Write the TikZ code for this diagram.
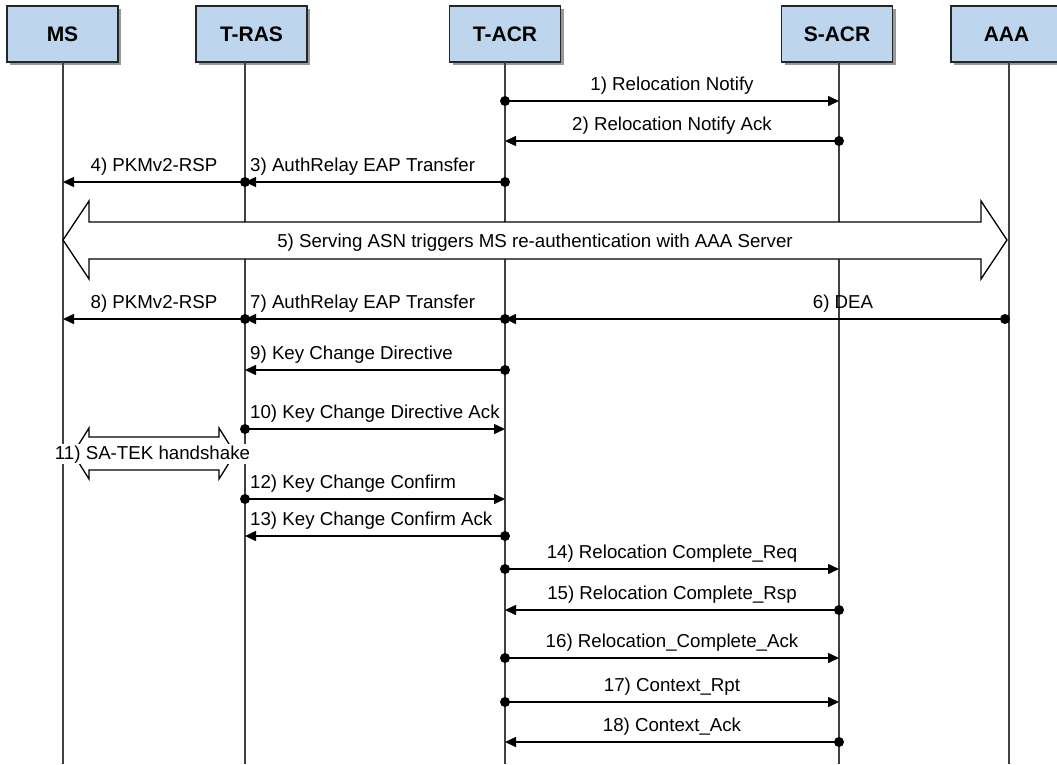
\documentclass[tikz,border=0pt]{standalone}
\usepackage{fontspec}
\setmainfont{Liberation Sans}
\usetikzlibrary{arrows.meta,shadows}

\definecolor{hdrblue}{RGB}{190,214,237}
\definecolor{lifegray}{RGB}{64,64,64}

% lifeline positions
\def\xMS{63}
\def\xTRAS{245}
\def\xTACR{505}
\def\xSACR{839}
\def\xAAA{1009}

% one message: name, from x, to x, y
\newcommand\sdmsg[4]{%
  \coordinate (#1s) at (#2,#4);
  \coordinate (#1e) at (#3,#4);
  \fill (#1s) circle[radius=5pt];
  \draw[msg] (#1s) -- (#1e);
}

\begin{document}
\begin{tikzpicture}[x=1pt,y=-1pt,
  hdr/.style={draw=black!85, line width=1.2pt, fill=hdrblue,
    minimum width=111pt, minimum height=56pt, inner sep=0pt,
    font=\bfseries\fontsize{21}{24}\selectfont,
    drop shadow={shadow xshift=3pt, shadow yshift=-3pt, fill=black!40, opacity=1}},
  life/.style={draw=lifegray, line width=2pt},
  msg/.style={line width=1.5pt, -{Triangle[length=11pt,width=10pt]}},
  lbl/.style={inner sep=0pt, font=\fontsize{18.7}{22}\selectfont},
  block/.style={draw=black, line width=1.3pt, fill=white, line join=miter}
]
\useasboundingbox (0,0) rectangle (1057,764);

% participants
\node[hdr] (MS)   at (62.5,34)  {MS};
\node[hdr] (TRAS) at (251.5,34) {T-RAS};
\node[hdr] (TACR) at (505,34)   {T-ACR};
\node[hdr] (SACR) at (837,34)   {S-ACR};
\node[hdr] (AAA)  at (1006.5,34){AAA};

% lifelines
\foreach \n/\x in {MS/\xMS, TRAS/\xTRAS, TACR/\xTACR, SACR/\xSACR, AAA/\xAAA}{
  \coordinate (\n top) at (\x,62);
  \coordinate (\n bot) at (\x,764);
  \draw[life] (\n top) -- (\n bot);
}

% messages 1-4
\sdmsg{m1}{\xTACR}{\xSACR}{101}
\node[lbl, anchor=base] (t1) at (672,90) {1) Relocation Notify};
\sdmsg{m2}{\xSACR}{\xTACR}{141}
\node[lbl, anchor=base] (t2) at (672,130) {2) Relocation Notify Ack};
\sdmsg{m3}{\xTACR}{\xTRAS}{182}
\node[lbl, anchor=base west] (t3) at (250,171) {3) AuthRelay EAP Transfer};
\sdmsg{m4}{\xTRAS}{\xMS}{182}
\node[lbl, anchor=base] (t4) at (154,171) {4) PKMv2-RSP};

% 5) re-authentication
\draw[block] (63,240) -- (89,201) -- (89,222) -- (981,222) -- (981,201)
  -- (1007,240) -- (981,279) -- (981,259) -- (89,259) -- (89,279) -- cycle;
\node[lbl, anchor=base] (t5) at (535,247)
  {5) Serving ASN triggers MS re-authentication with AAA Server};

% messages 6-10
\sdmsg{m6}{1005}{\xTACR}{319}
\node[lbl, anchor=base] (t6) at (843,308) {6) DEA};
\sdmsg{m7}{\xTACR}{\xTRAS}{319}
\node[lbl, anchor=base west] (t7) at (250,308) {7) AuthRelay EAP Transfer};
\sdmsg{m8}{\xTRAS}{\xMS}{319}
\node[lbl, anchor=base] (t8) at (154,308) {8) PKMv2-RSP};
\sdmsg{m9}{\xTACR}{\xTRAS}{370}
\node[lbl, anchor=base west] (t9) at (250,359) {9) Key Change Directive};
\sdmsg{m10}{\xTRAS}{\xTACR}{429}
\node[lbl, anchor=base west] (t10) at (250,418) {10) Key Change Directive Ack};

% 11) SA-TEK handshake
\draw[block] (73,453.5) -- (89,428) -- (89,437) -- (219,437) -- (219,428)
  -- (235,453.5) -- (219,479) -- (219,470) -- (89,470) -- (89,479) -- cycle;
\node[lbl, anchor=base, fill=white, inner sep=1pt] (t11) at (152.5,459) {11) SA-TEK handshake};

% messages 12-18
\sdmsg{m12}{\xTRAS}{\xTACR}{499}
\node[lbl, anchor=base west] (t12) at (250,488) {12) Key Change Confirm};
\sdmsg{m13}{\xTACR}{\xTRAS}{536}
\node[lbl, anchor=base west] (t13) at (250,525) {13) Key Change Confirm Ack};
\sdmsg{m14}{\xTACR}{\xSACR}{569}
\node[lbl, anchor=base] (t14) at (672,558) {14) Relocation Complete\_Req};
\sdmsg{m15}{\xSACR}{\xTACR}{610}
\node[lbl, anchor=base] (t15) at (672,599) {15) Relocation Complete\_Rsp};
\sdmsg{m16}{\xTACR}{\xSACR}{658}
\node[lbl, anchor=base] (t16) at (672,647) {16) Relocation\_Complete\_Ack};
\sdmsg{m17}{\xTACR}{\xSACR}{702}
\node[lbl, anchor=base] (t17) at (672,691) {17) Context\_Rpt};
\sdmsg{m18}{\xSACR}{\xTACR}{742}
\node[lbl, anchor=base] (t18) at (672,731) {18) Context\_Ack};
\end{tikzpicture}
\end{document}
